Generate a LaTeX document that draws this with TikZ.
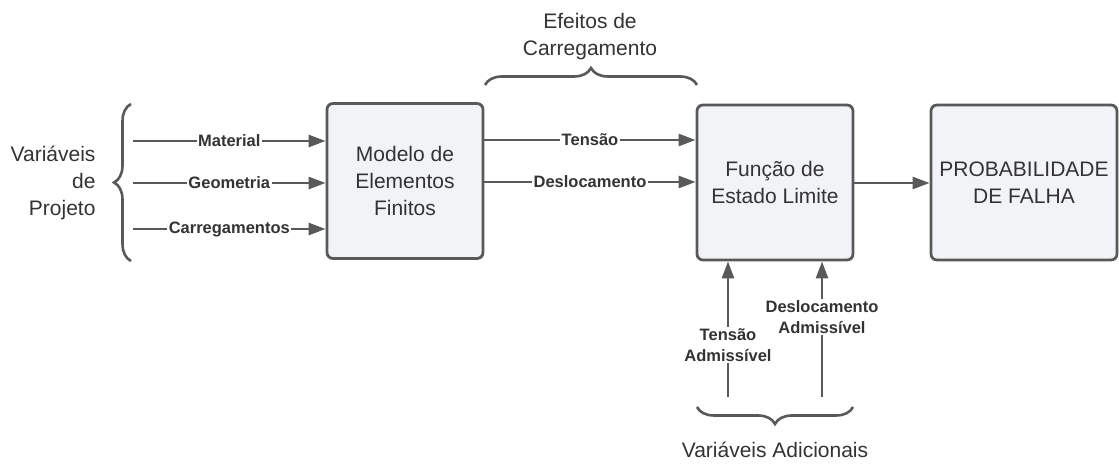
\documentclass[tikz,border=0pt]{standalone}
\usepackage{fontspec}
\setmainfont{Liberation Sans}
\usetikzlibrary{arrows.meta,decorations.pathreplacing}
\definecolor{edge}{HTML}{595959}
\definecolor{boxfill}{HTML}{F1F3F6}
\definecolor{txt}{HTML}{333333}
\tikzset{
  blk/.style={draw=edge,fill=boxfill,line width=2.8pt,rounded corners=6pt,
    minimum height=155pt,text=txt,align=center,inner sep=0pt,
    font=\fontsize{21}{27}\selectfont},
  conn/.style={draw=edge,line width=2.6pt,-{Triangle[length=17pt,width=12pt]}},
  plainline/.style={draw=edge,line width=2.6pt},
  lbl/.style={fill=white,text=txt,inner sep=1.5pt,align=center,
    font=\fontsize{16.5}{21}\selectfont\bfseries},
  brc/.style={draw=edge,line width=2.6pt,decorate,
    decoration={brace,amplitude=17pt}},
  big/.style={text=txt,align=center,font=\fontsize{21}{27}\selectfont},
}
\begin{document}
\begin{tikzpicture}[x=1pt,y=1pt]
\useasboundingbox (0,0) rectangle (1119,468);
% boxes
\node[blk,minimum width=156pt] (fem) at (405,287) {Modelo de\\Elementos\\Finitos};
\node[blk,minimum width=156pt] (lsf) at (775,285.5) {Função de\\Estado Limite};
\node[blk,minimum width=186pt] (pf) at (1024,285.5) {PROBABILIDADE\\DE FALHA};
% left inputs
\coordinate (m0) at (133,327);
\coordinate (g0) at (133,285);
\coordinate (c0) at (133,239);
\draw[conn] (m0) -- (m0 -| fem.west) node[midway,lbl] (lm) {Material};
\draw[conn] (g0) -- (g0 -| fem.west) node[midway,lbl] (lg) {Geometria};
\draw[conn] (c0) -- (c0 -| fem.west) node[midway,lbl] (lc) {Carregamentos};
\coordinate (lb0) at (131,207);
\coordinate (lb1) at (131,364);
\draw[brc] (lb0) -- (lb1);
\node[big,anchor=east,align=right] (vp) at (99,285) {Variáveis\\de\\Projeto};
% middle outputs
\coordinate (t0) at (fem.east |- 0,328);
\coordinate (d0) at (fem.east |- 0,286);
\draw[conn] (t0) -- (t0 -| lsf.west) node[midway,lbl] (lt) {Tensão};
\draw[conn] (d0) -- (d0 -| lsf.west) node[midway,lbl] (ld) {Deslocamento};
\coordinate (tb0) at (485,383);
\coordinate (tb1) at (697,383);
\draw[brc] (tb0) -- (tb1);
\node[big] (ef) at (590,431) {Efeitos de\\Carregamento};
% to probability
\draw[conn] (lsf.east |- 0,285) -- (pf.west |- 0,285);
% bottom inputs
\coordinate (ta0) at (728,71);
\coordinate (da0) at (822,71);
\node[lbl] (lta) at (728,123) {Tensão\\Admissível};
\node[lbl] (lda) at (822,151) {Deslocamento\\Admissível};
\draw[plainline] (ta0) -- (lta.south);
\draw[conn] (lta.north) -- (lta.north |- lsf.south);
\draw[plainline] (da0) -- (lda.south);
\draw[conn] (lda.north) -- (lda.north |- lsf.south);
\coordinate (bb0) at (853,61);
\coordinate (bb1) at (697,61);
\draw[brc] (bb0) -- (bb1);
\node[big] (va) at (775,18) {Variáveis Adicionais};
\end{tikzpicture}
\end{document}
